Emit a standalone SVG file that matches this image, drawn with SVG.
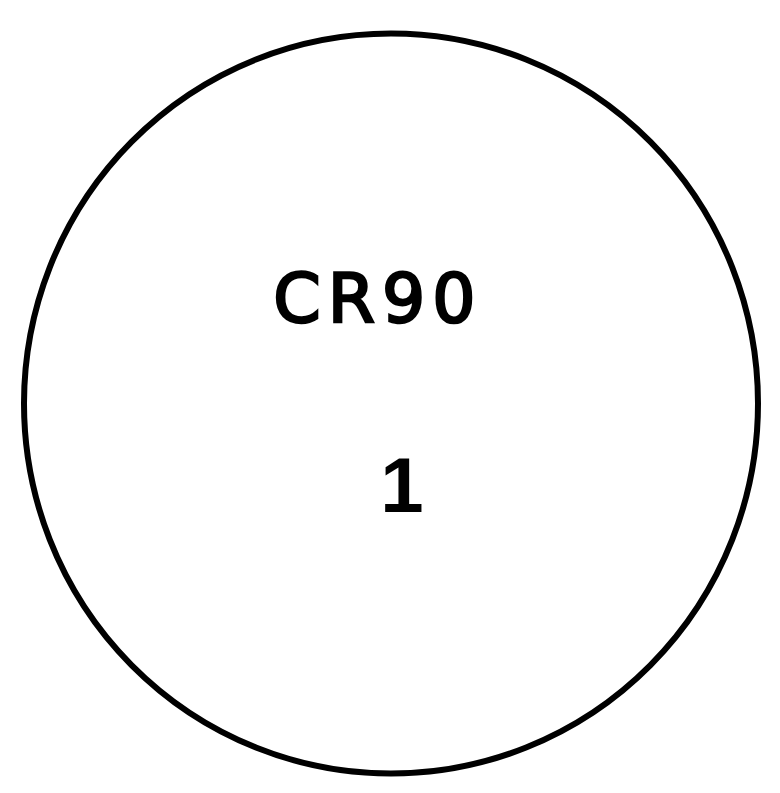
<svg xmlns="http://www.w3.org/2000/svg" width="780" height="793" viewBox="0 0 780 793">
<style>
.lbl{fill:#000;text-anchor:middle}
</style>
<rect width="780" height="793" fill="#fff"/>
<g id="node-cr90">
<ellipse cx="391" cy="403.5" rx="367" ry="370" fill="none" stroke="#000" stroke-width="6"/>
<text class="lbl" x="378" y="322" font-size="68" letter-spacing="7" stroke="#000" stroke-width="2.5" font-family="'DejaVu Sans','Liberation Sans',sans-serif">CR90</text>
<text class="lbl" x="402" y="512" font-size="78" font-weight="bold" font-family="'Liberation Sans',Arial,sans-serif">1</text>
</g>
</svg>
